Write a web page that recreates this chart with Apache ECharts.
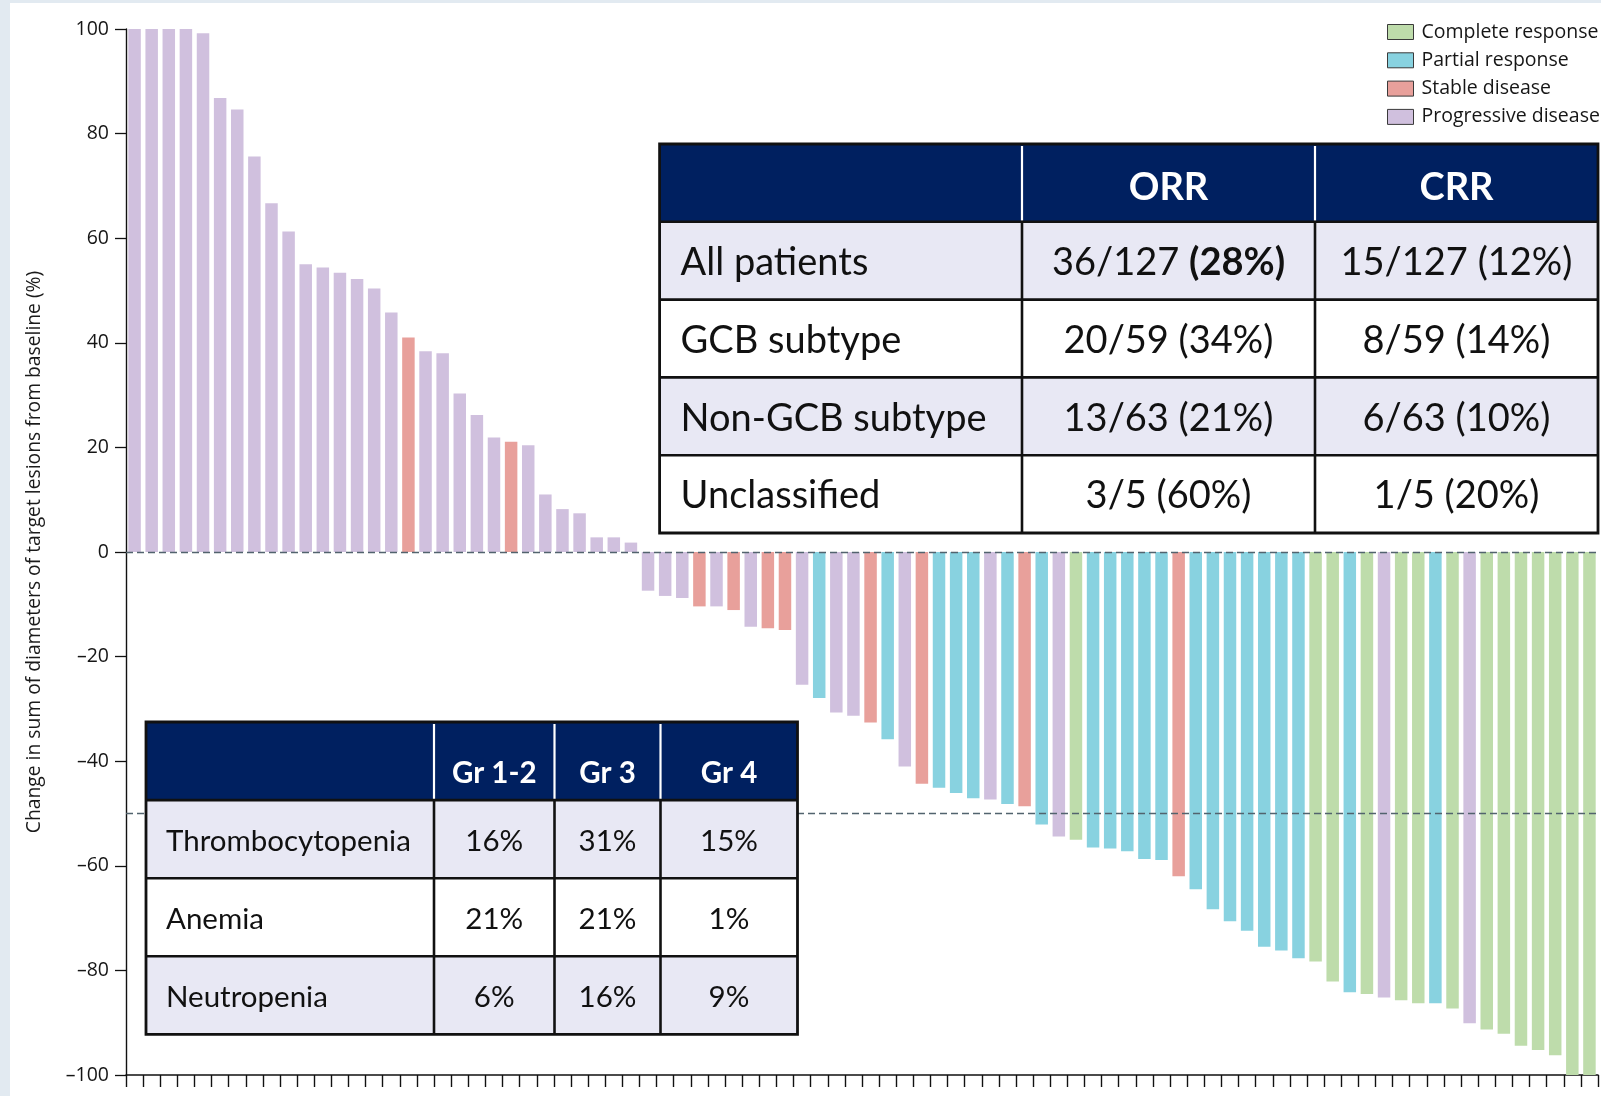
<!DOCTYPE html>
<html>
<head>
<meta charset="utf-8">
<title>Waterfall plot of best change in target lesions</title>
<script src="https://cdn.jsdelivr.net/npm/echarts@6/dist/echarts.min.js"></script>
<style>
  html, body { margin: 0; padding: 0; background: #e2eaf1; }
  #chart { width: 1601px; height: 1096px; }
</style>
</head>
<body>
<div id="chart"></div>
<script>
// Best percentage change from baseline in sum of target lesion diameters, one bar per patient
const changeFromBaseline = [
  100, 100, 100, 100, 99.2, 86.8, 84.6, 75.6, 66.7, 61.3,
  55.0, 54.4, 53.4, 52.2, 50.4, 45.8, 41.0, 38.4, 38.0, 30.3,
  26.2, 21.9, 21.1, 20.4, 11.0, 8.2, 7.4, 2.8, 2.8, 1.8,
  -7.4, -8.4, -8.8, -10.4, -10.4, -11.1, -14.3, -14.6, -14.9, -25.4,
  -27.9, -30.7, -31.3, -32.6, -35.8, -41.0, -44.3, -45.1, -46.1, -47.1,
  -47.3, -48.2, -48.6, -52.1, -54.4, -55.0, -56.5, -56.7, -57.2, -58.7,
  -58.9, -62.0, -64.5, -68.3, -70.6, -72.4, -75.5, -76.2, -77.7, -78.3,
  -82.1, -84.2, -84.5, -85.2, -85.7, -86.3, -86.3, -87.3, -90.1, -91.3,
  -92.1, -94.4, -95.2, -96.2, -100, -100
];

// Best overall response for the same patients
const bestResponse = [
  'PD','PD','PD','PD','PD','PD','PD','PD','PD','PD',
  'PD','PD','PD','PD','PD','PD','SD','PD','PD','PD',
  'PD','PD','SD','PD','PD','PD','PD','PD','PD','PD',
  'PD','PD','PD','SD','PD','SD','PD','SD','SD','PD',
  'PR','PD','PD','SD','PR','PD','SD','PR','PR','PR',
  'PD','PR','SD','PR','PD','CR','PR','PR','PR','PR',
  'PR','SD','PR','PR','PR','PR','PR','PR','PR','CR',
  'CR','PR','CR','PD','CR','CR','PR','CR','PD','CR',
  'CR','CR','CR','CR','CR','CR'
];

const responseCodes = ['CR', 'PR', 'SD', 'PD'];
const responseLabels = ['Complete response', 'Partial response', 'Stable disease', 'Progressive disease'];
const referenceLevels = [0, -50];
const yTickInterval = 20;

// Response rates
const efficacyHeader = ['', 'ORR', 'CRR'];
const efficacyRows = [
  ['All patients', '36/127 {b|(28%)}', '15/127 (12%)'],
  ['GCB subtype', '20/59 (34%)', '8/59 (14%)'],
  ['Non-GCB subtype', '13/63 (21%)', '6/63 (10%)'],
  ['Unclassified', '3/5 (60%)', '1/5 (20%)']
];

// Haematological adverse events by grade
const safetyHeader = ['', 'Gr 1-2', 'Gr 3', 'Gr 4'];
const safetyRows = [
  ['Thrombocytopenia', '16%', '31%', '15%'],
  ['Anemia', '21%', '21%', '1%'],
  ['Neutropenia', '6%', '16%', '9%']
];

// ---- styling ----
const barColors = { CR: '#bedcab', PR: '#88d2e0', SD: '#e8a09b', PD: '#d0c0de' };
const NAVY = '#002060';
const BAND = '#e8e8f4';
const INK = '#111111';
const AXIS_FONT = 'Open Sans';
const TABLE_FONT = 'Lato';

const patients = changeFromBaseline.map((_, i) => 'P' + (i + 1));

const barSeries = responseCodes.map((code, k) => ({
  name: responseLabels[k],
  type: 'bar',
  stack: 'patients',
  barCategoryGap: '27%',
  itemStyle: { color: barColors[code] },
  emphasis: { disabled: true },
  data: changeFromBaseline.map((v, i) => (bestResponse[i] === code ? v : '-'))
}));

// dashed reference lines at 0% and -50%, drawn over the bars
const referenceSeries = {
  name: 'reference',
  type: 'line',
  z: 10,
  silent: true,
  symbol: 'none',
  data: patients.map(() => '-'),
  markLine: {
    silent: true,
    symbol: 'none',
    label: { show: false },
    lineStyle: { type: [7, 4], color: '#52636e', width: 1.3 },
    data: referenceLevels.map(v => ({ yAxis: v }))
  }
};

// ---- tables drawn as graphic elements ----
function buildTable(t) {
  const els = [];
  const xs = [t.x];
  t.colWidths.forEach(w => xs.push(xs[xs.length - 1] + w));
  const nRows = t.rows.length + 1;
  const ys = [];
  for (let r = 0; r <= nRows; r++) ys.push(t.y + r * t.rowHeight);
  const x0 = xs[0], x1 = xs[xs.length - 1], y0 = ys[0], y1 = ys[ys.length - 1];
  const Z = 100;

  // header and banded body fills
  els.push({ type: 'rect', z: Z, silent: true,
    shape: { x: x0, y: ys[0], width: x1 - x0, height: t.rowHeight }, style: { fill: NAVY } });
  t.rows.forEach((row, r) => {
    els.push({ type: 'rect', z: Z, silent: true,
      shape: { x: x0, y: ys[r + 1], width: x1 - x0, height: t.rowHeight },
      style: { fill: r % 2 === 0 ? BAND : '#ffffff' } });
  });

  // column dividers: white in the header, black in the body
  for (let c = 1; c < xs.length - 1; c++) {
    els.push({ type: 'line', z: Z + 1, silent: true,
      shape: { x1: xs[c], y1: ys[0] + 2, x2: xs[c], y2: ys[1] - 1 },
      style: { stroke: '#ffffff', lineWidth: 2.2 } });
    els.push({ type: 'line', z: Z + 1, silent: true,
      shape: { x1: xs[c], y1: ys[1], x2: xs[c], y2: y1 },
      style: { stroke: INK, lineWidth: 2.6 } });
  }
  // row rules
  for (let r = 1; r < nRows; r++) {
    els.push({ type: 'line', z: Z + 1, silent: true,
      shape: { x1: x0, y1: ys[r], x2: x1, y2: ys[r] },
      style: { stroke: INK, lineWidth: 2.6 } });
  }
  // outer frame
  els.push({ type: 'rect', z: Z + 2, silent: true,
    shape: { x: x0, y: y0, width: x1 - x0, height: y1 - y0 },
    style: { fill: 'none', stroke: INK, lineWidth: 2.8 } });

  // header text
  t.header.forEach((txt, c) => {
    if (!txt) return;
    els.push({ type: 'text', z: Z + 3, silent: true,
      x: (xs[c] + xs[c + 1]) / 2, y: (ys[0] + ys[1]) / 2 + t.headerShift,
      style: { text: txt, fill: '#ffffff', fontFamily: TABLE_FONT, fontWeight: 'bold',
        fontSize: t.fontSize, textAlign: 'center', textVerticalAlign: 'middle' } });
  });
  // body text
  t.rows.forEach((row, r) => {
    row.forEach((txt, c) => {
      const first = c === 0;
      els.push({ type: 'text', z: Z + 3, silent: true,
        x: first ? xs[0] + t.padLeft : (xs[c] + xs[c + 1]) / 2,
        y: (ys[r + 1] + ys[r + 2]) / 2 + t.bodyShift,
        style: { text: txt, fill: INK, fontFamily: TABLE_FONT, fontSize: t.fontSize,
          textAlign: first ? 'left' : 'center', textVerticalAlign: 'middle',
          rich: { b: { fontFamily: TABLE_FONT, fontWeight: 'bold', fontSize: t.fontSize, fill: INK, color: INK } } } });
    });
  });
  return els;
}

const efficacyTable = buildTable({
  x: 659.6, y: 144, colWidths: [362.4, 293, 283], rowHeight: 77.8,
  header: efficacyHeader, rows: efficacyRows, fontSize: 38, padLeft: 21, headerShift: 5, bodyShift: 2
});
const safetyTable = buildTable({
  x: 146, y: 722, colWidths: [288, 120.5, 106, 137], rowHeight: 78.1,
  header: safetyHeader, rows: safetyRows, fontSize: 29.5, padLeft: 20, headerShift: 12, bodyShift: 2
});

const chart = echarts.init(document.getElementById('chart'), null, { renderer: 'canvas' });
chart.setOption({
  animation: false,
  backgroundColor: 'transparent',
  grid: { left: 126, right: 3, top: 29, bottom: 21, containLabel: false },
  legend: {
    orient: 'vertical',
    left: 1382,
    top: 17,
    itemWidth: 26,
    itemHeight: 15,
    itemGap: 8.3,
    icon: 'rect',
    selectedMode: false,
    itemStyle: { borderColor: '#3a3a3a', borderWidth: 1 },
    textStyle: { fontFamily: AXIS_FONT, fontSize: 19.5, color: '#161616', lineHeight: 20, padding: [0, 0, 0, 3] },
    data: responseLabels
  },
  xAxis: {
    type: 'category',
    data: patients,
    boundaryGap: true,
    axisLine: { onZero: false, lineStyle: { color: '#111', width: 1.5 } },
    axisTick: { show: true, interval: 0, length: 12, inside: false, lineStyle: { color: '#111', width: 1.4 } },
    axisLabel: { show: false, interval: 0 },
    splitLine: { show: false }
  },
  yAxis: {
    type: 'value',
    min: -100,
    max: 100,
    interval: yTickInterval,
    name: 'Change in sum of diameters of target lesions from baseline (%)',
    nameLocation: 'middle',
    nameGap: 82,
    nameTextStyle: { fontFamily: AXIS_FONT, fontSize: 19.3, color: '#1a1a1a' },
    axisLine: { show: true, lineStyle: { color: '#111', width: 1.4 } },
    axisTick: { show: true, length: 11, lineStyle: { color: '#111', width: 1.3 } },
    axisLabel: {
      fontFamily: AXIS_FONT, fontSize: 19.5, color: '#151515', margin: 17,
      formatter: v => (v < 0 ? '\u2013' + Math.abs(v) : String(v))
    },
    splitLine: { show: false }
  },
  graphic: {
    elements: [
      { type: 'rect', z: -10, silent: true, shape: { x: 10, y: 3, width: 1591, height: 1093 }, style: { fill: '#ffffff' } }
    ].concat(efficacyTable, safetyTable)
  },
  series: barSeries.concat([referenceSeries])
});
</script>
</body>
</html>
